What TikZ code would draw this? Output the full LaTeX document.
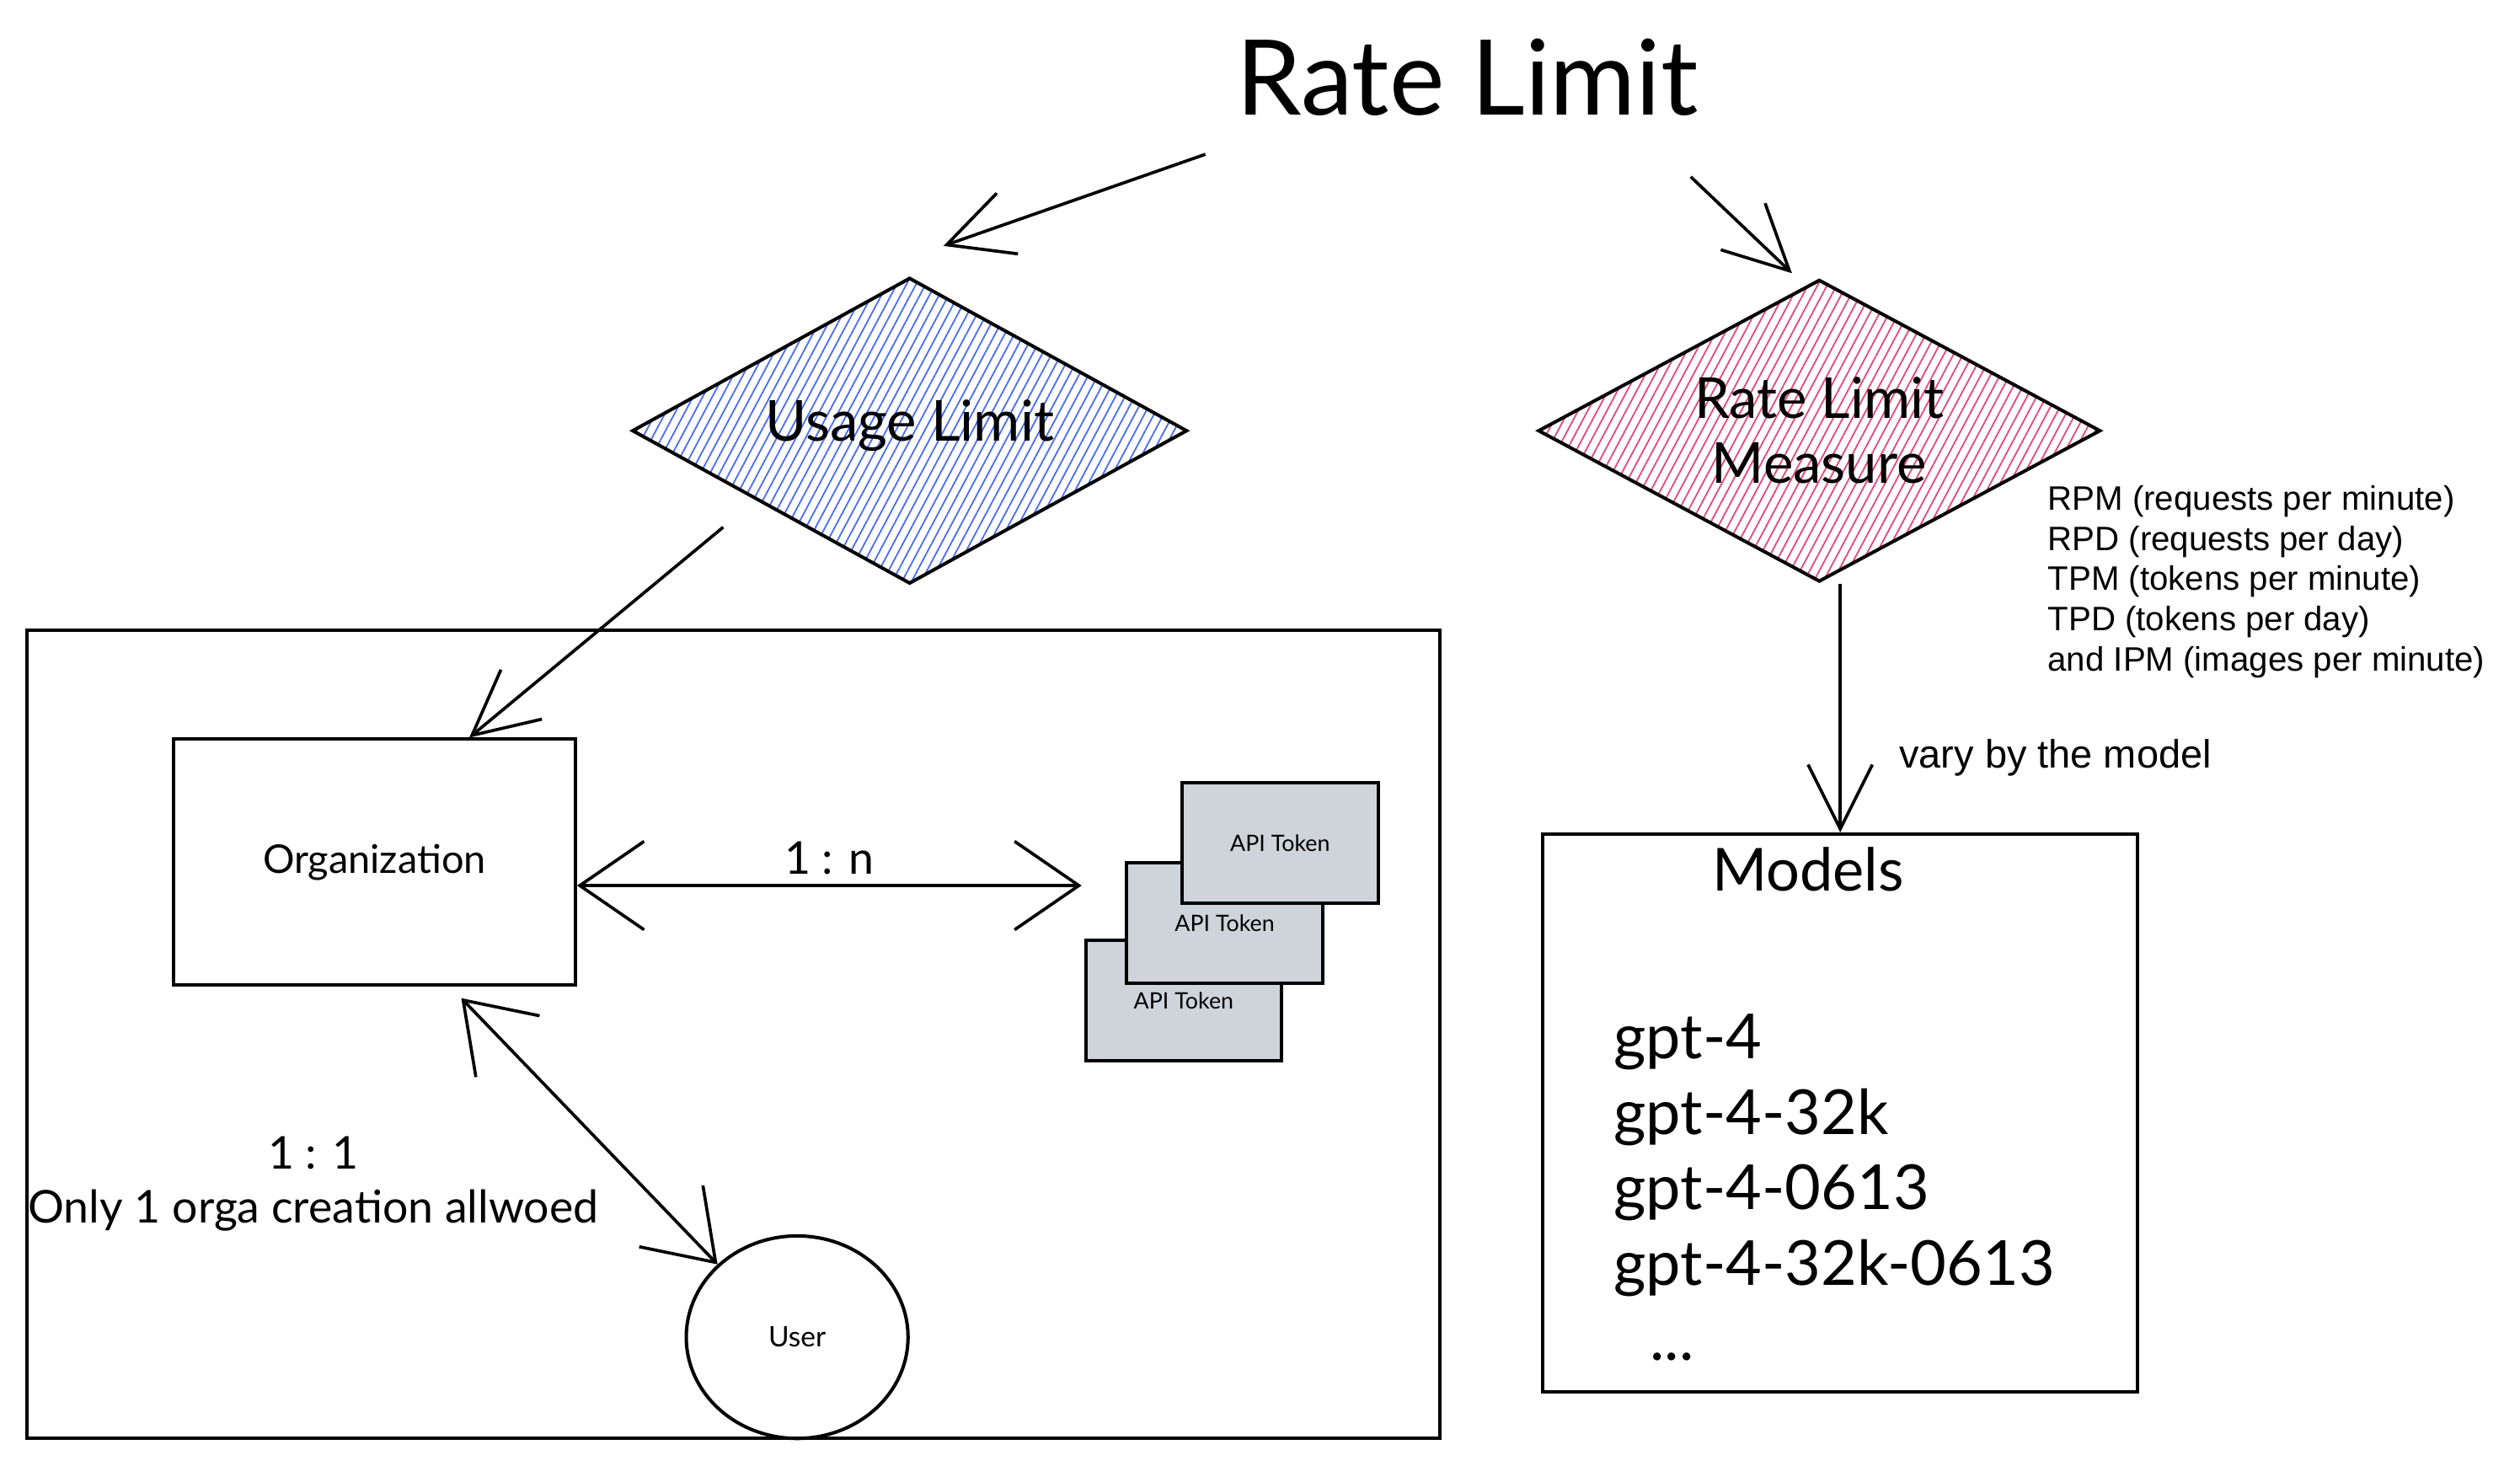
\documentclass[tikz,border=0pt]{standalone}
\usepackage{fontspec}
\setmainfont{Lato}
\newfontfamily\helv{Liberation Sans}
\usepackage{tikz}
\usetikzlibrary{shapes.geometric,arrows.meta,patterns.meta,positioning}
\definecolor{usageblue}{HTML}{4C6EF5}
\definecolor{measurepink}{HTML}{E64980}
\definecolor{tokengray}{HTML}{CED4DA}

\begin{document}
\begin{tikzpicture}[decision/.style={
      draw=black,
      line width=1.2pt,
      diamond,
      aspect=1.85,
      inner sep=0pt,
      align=center,
      font=\fontsize{20}{23}\selectfont
    }]
\tikzset{box/.style = {draw,line width=1.2pt,inner sep=0pt}}
\tikzset{token/.style = {box,fill=tokengray,minimum width=2.44cm,minimum height=1.5cm,font=\fontsize{8}{10}\selectfont}}
\tikzset{edge/.style = {line width=1.1pt,-{Straight Barb[length=8mm,width=8mm]}}}
\tikzset{dedge/.style = {line width=1.1pt,{Straight Barb[length=8mm,width=11mm]}-{Straight Barb[length=8mm,width=11mm]}}}
\useasboundingbox (0,0) rectangle (31.36,-18.24);
%\draw (0,0) rectangle (31.36,-18.24);
\node[font=\fontsize{37}{44}\selectfont] (title) at (18.26,-0.96) {Rate Limit};
\node[decision,minimum width=6.9cm,minimum height=3.8cm,
  pattern={Lines[angle=62,distance=3pt,line width=0.55pt]},pattern color=usageblue] (usage) at (11.32,-5.36) {\raisebox{0.25cm}{Usage Limit}};
\node[decision,minimum width=7.0cm,minimum height=3.76cm,
  pattern={Lines[angle=62,distance=3pt,line width=0.55pt]},pattern color=measurepink] (measure) at (22.64,-5.36) {Rate Limit\\Measure};
\node[font=\helv\fontsize{12}{14.2}\selectfont,align=left,anchor=west] (units) at (25.36,-7.24)
  {RPM (requests per minute)\\RPD (requests per day)\\TPM (tokens per minute)\\TPD (tokens per day)\\and IPM (images per minute)};
% left part
\node[box,minimum width=17.58cm,minimum height=10.06cm] (frame) at (9.13,-12.87) {};
\node[box,minimum width=5.0cm,minimum height=3.06cm,font=\fontsize{14}{17}\selectfont] (org) at (4.66,-10.73) {Organization};
\node[token] (tok3) at (14.73,-12.45) {API Token};
\node[token] (tok2) at (15.24,-11.49) {API Token};
\node[token] (tok1) at (15.93,-10.49) {API Token};
\node[box,ellipse,minimum width=2.76cm,minimum height=2.52cm,font=\fontsize{10}{12}\selectfont] (user) at (9.92,-16.64) {User};
\node[align=center,font=\fontsize{16}{19}\selectfont] (oneone) at (3.9,-14.73) {1 : 1\\Only 1 orga creation allwoed};
% right part
\node[box,minimum width=7.4cm,minimum height=6.94cm] (models) at (22.9,-13.85) {};
\node[font=\fontsize{21}{25}\selectfont] (modtitle) at (22.5,-10.82) {Models};
\node[align=left,anchor=west,font=\fontsize{22}{26.7}\selectfont] (modlist) at (19.96,-14.78)
  {gpt-4\\gpt-4-32k\\gpt-4-0613\\gpt-4-32k-0613\\\hspace{0.45cm}...};
% arrows
\coordinate (t1) at (15.0,-1.92);
\coordinate (h1) at (11.74,-3.06);
\coordinate (t2) at (21.04,-2.2);
\coordinate (h2) at (22.3,-3.4);
\coordinate (t3) at (9.0,-6.56);
\coordinate (tokend) at (13.46,-11.02);
\draw[edge] (t1) -- (h1);
\draw[edge] (t2) -- (h2);
\draw[edge] (t3) -- ([xshift=1.18cm]org.north);
\draw[dedge] ([yshift=-0.29cm]org.east) -- node[above,font=\fontsize{16}{19}\selectfont] {1 : n} (tokend);
\draw[dedge] ([xshift=1.08cm,yshift=-0.14cm]org.south) -- (user.north west);
\draw[edge] (models.north |- measure.south) -- node[pos=0.7,anchor=west,xshift=0.6cm,font=\helv\fontsize{14}{17}\selectfont] {vary by the model} (models.north);
\end{tikzpicture}
\end{document}
